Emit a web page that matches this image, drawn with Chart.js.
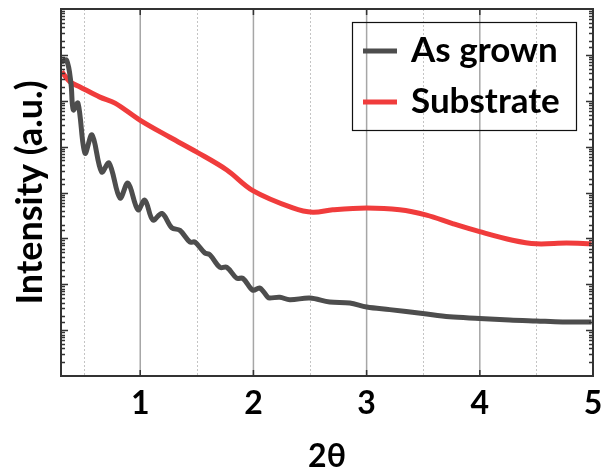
<!DOCTYPE html>
<html>
<head>
<meta charset="utf-8">
<script src="https://cdn.jsdelivr.net/npm/chart.js@4.4.0/dist/chart.umd.min.js"></script>
<style>
  html, body { margin: 0; padding: 0; background: #fff; }
  #wrap { width: 604px; height: 468px; }
</style>
</head>
<body>
<div id="wrap"><canvas id="myChart" width="604" height="468"></canvas></div>
<script>
// values (x = 2theta, y = intensity, log scale)
const grownTheta = [0.306, 0.35, 0.388, 0.409, 0.45, 0.512, 0.574, 0.659, 0.724, 0.821, 0.891, 0.98,
  1.041, 1.112, 1.191, 1.28, 1.35, 1.439, 1.483, 1.571, 1.615, 1.703, 1.765, 1.853, 1.906, 1.995,
  2.056, 2.127, 2.145, 2.233, 2.321, 2.498, 2.674, 2.851, 3.001, 3.204, 3.495, 3.733, 3.998,
  4.263, 4.501, 4.731, 4.987];
const grownIntensity = [7.1e6, 7.6e6, 2.4e6, 6.3e5, 8.9e5, 7.2e4, 1.8e5, 2.8e4, 4.4e4, 7.6e3, 1.6e4, 4.2e3,
  6.8e3, 2.5e3, 3.5e3, 1.7e3, 1.5e3, 830, 830, 480, 440, 234, 234, 135, 135, 74,
  83, 52, 50, 52, 46, 50, 41, 39, 32, 28, 23, 19.5, 18,
  16.6, 15.8, 15.1, 15.1];

const subTheta = [0.306, 0.379, 0.468, 0.644, 0.777, 0.997, 1.262, 1.5, 1.765, 1.995, 2.348,
  2.524, 2.701, 3.001, 3.292, 3.53, 3.76, 3.998, 4.289, 4.501, 4.766, 4.987];
const subIntensity = [4.3e6, 2.6e6, 2.0e6, 1.2e6, 8.9e5, 3.8e5, 1.6e5, 7.6e4, 3.1e4, 1.1e4, 4.6e3,
  3.7e3, 4.2e3, 4.6e3, 4.2e3, 3.2e3, 2.1e3, 1.4e3, 910, 760, 790, 760];

const xTicks = [1, 2, 3, 4, 5];
const xHalfTicks = [0.5, 1.5, 2.5, 3.5, 4.5];
const labels = ['As grown', 'Substrate'];
const colors = ['#4d4d4d', '#f03c3c'];

function pts(xs, ys) { return xs.map((v, i) => ({x: v, y: ys[i]})); }

const FONT = 'Lato, "Open Sans", sans-serif';

const frame = {
  id: 'frame',
  beforeDatasetsDraw(chart) {
    const {ctx, chartArea: a, scales: {x}} = chart;
    ctx.save();
    ctx.lineWidth = 1;
    ctx.strokeStyle = '#c4c4c4';
    ctx.setLineDash([2, 2]);
    xHalfTicks.forEach(v => {
      const px = Math.round(x.getPixelForValue(v)) + 0.5;
      ctx.beginPath(); ctx.moveTo(px, a.top); ctx.lineTo(px, a.bottom); ctx.stroke();
    });
    ctx.setLineDash([]);
    ctx.lineWidth = 1.5;
    ctx.strokeStyle = '#a6a6a6';
    xTicks.forEach(v => {
      const px = x.getPixelForValue(v);
      ctx.beginPath(); ctx.moveTo(px, a.top); ctx.lineTo(px, a.bottom); ctx.stroke();
    });
    ctx.restore();
  },
  afterDatasetsDraw(chart) {
    const {ctx, chartArea: a, scales: {x, y}} = chart;
    ctx.save();
    ctx.strokeStyle = '#333';
    ctx.lineWidth = 2;
    ctx.strokeRect(a.left, a.top, a.right - a.left, a.bottom - a.top);
    // inner ticks, log y
    ctx.lineWidth = 1.5;
    y.ticks.forEach(t => {
      const lg = Math.log10(t.value);
      const major = Math.abs(lg - Math.round(lg)) < 1e-6;
      const len = major ? 7 : 4;
      const py = Math.round(y.getPixelForValue(t.value)) + 0.5;
      if (py < a.top + 1 || py > a.bottom - 1) return;
      ctx.beginPath();
      ctx.moveTo(a.left, py); ctx.lineTo(a.left + len, py);
      ctx.moveTo(a.right, py); ctx.lineTo(a.right - len, py);
      ctx.stroke();
    });
    xTicks.forEach(v => {
      const px = x.getPixelForValue(v);
      ctx.beginPath();
      ctx.moveTo(px, a.bottom); ctx.lineTo(px, a.bottom - 6);
      ctx.moveTo(px, a.top); ctx.lineTo(px, a.top + 6);
      ctx.stroke();
    });
    // legend
    ctx.lineWidth = 1.2;
    ctx.strokeStyle = '#111';
    ctx.strokeRect(352.5, 22.5, 224, 108);
    const rows = [62, 113];
    ctx.font = 'bold 35px ' + FONT;
    ctx.textBaseline = 'alphabetic';
    ctx.fillStyle = '#000';
    chart.data.datasets.forEach((ds, i) => {
      ctx.strokeStyle = ds.borderColor;
      ctx.lineWidth = 5;
      ctx.beginPath();
      ctx.moveTo(363, rows[i] - 11); ctx.lineTo(397, rows[i] - 11);
      ctx.stroke();
      ctx.fillText(ds.label, 411, rows[i]);
    });
    ctx.restore();
  }
};

new Chart(document.getElementById('myChart'), {
  type: 'line',
  data: {
    datasets: [{
      label: labels[0],
      data: pts(grownTheta, grownIntensity),
      borderColor: colors[0],
      borderWidth: 5,
      pointRadius: 0,
      tension: 0.35
    }, {
      label: labels[1],
      data: pts(subTheta, subIntensity),
      borderColor: colors[1],
      borderWidth: 5,
      pointRadius: 0,
      tension: 0.35
    }]
  },
  options: {
    responsive: false,
    animation: false,
    layout: { padding: { top: 9, right: 11, left: 0, bottom: 0 } },
    plugins: { legend: { display: false }, tooltip: { enabled: false } },
    scales: {
      x: {
        type: 'linear',
        min: 0.3,
        max: 5,
        afterBuildTicks: s => { s.ticks = xTicks.map(v => ({value: v})); },
        afterFit: s => { s.height = 92; },
        grid: { display: false },
        border: { display: false },
        ticks: {
          color: '#000',
          padding: 0,
          font: { family: FONT, size: 32, weight: 'bold' },
          callback: v => String(v)
        },
        title: {
          display: true,
          text: '2θ',
          color: '#000',
          padding: { top: 0, bottom: -8 },
          font: { family: FONT, size: 32, weight: 'bold' }
        }
      },
      y: {
        type: 'logarithmic',
        min: 1,
        max: 1e8,
        afterFit: s => { s.width = 61; },
        grid: { display: false },
        border: { display: false },
        ticks: { display: false },
        title: {
          display: true,
          text: 'Intensity (a.u.)',
          color: '#000',
          padding: { top: 9, bottom: 0 },
          font: { family: FONT, size: 36, weight: 'bold' }
        }
      }
    }
  },
  plugins: [frame]
});
</script>
</body>
</html>
